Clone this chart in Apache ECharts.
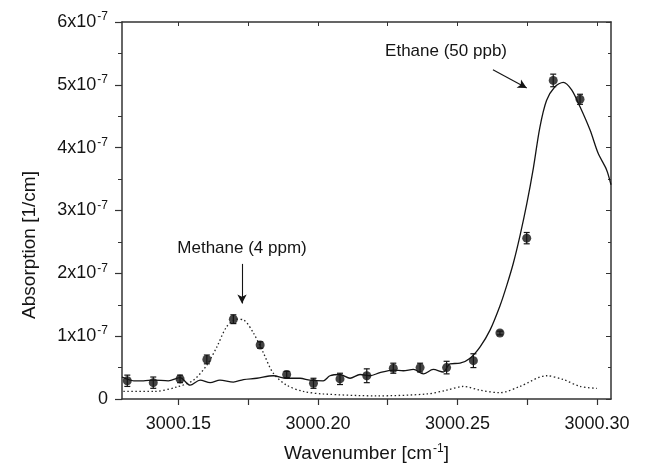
<!DOCTYPE html>
<html lang="en">
<head>
<meta charset="UTF-8">
<title>Absorption spectrum</title>
<script src="https://cdn.jsdelivr.net/npm/echarts@6/dist/echarts.min.js"></script>
<style>
  html, body { margin: 0; padding: 0; background: #fff; }
  #main { width: 661px; height: 464px; }
</style>
</head>
<body>
<div id="main"></div>
<script>
// measured points (absorption in units of 1e-7 1/cm)
const pointX = [3000.1317, 3000.1410, 3000.1506, 3000.1602, 3000.1697, 3000.1793, 3000.1888, 3000.1984, 3000.2079,
                3000.2175, 3000.2270, 3000.2366, 3000.2461, 3000.2557, 3000.2652, 3000.2748, 3000.2843, 3000.2939];
const pointY = [0.29, 0.26, 0.32, 0.63, 1.27, 0.86, 0.39, 0.25, 0.32, 0.37, 0.49, 0.50, 0.50, 0.61, 1.05, 2.56, 5.07, 4.77];
const pointErr = [0.09, 0.09, 0.06, 0.07, 0.07, 0.05, 0.05, 0.08, 0.09, 0.11, 0.08, 0.07, 0.10, 0.11, 0.03, 0.09, 0.10, 0.08];

// ethane fit + baseline (solid)
const ethaneX = [3000.1298, 3000.1340, 3000.1375, 3000.1410, 3000.1464, 3000.1506, 3000.1542, 3000.1578, 3000.1614,
                 3000.1649, 3000.1697, 3000.1733, 3000.1781, 3000.1840, 3000.1888, 3000.1936, 3000.1971, 3000.2019,
                 3000.2043, 3000.2079, 3000.2115, 3000.2151, 3000.2187, 3000.2222, 3000.2270, 3000.2306, 3000.2342,
                 3000.2378, 3000.2413, 3000.2449, 3000.2473, 3000.2509, 3000.2545, 3000.2581, 3000.2617, 3000.2652,
                 3000.2676, 3000.2700, 3000.2724, 3000.2748, 3000.2772, 3000.2795, 3000.2819, 3000.2849, 3000.2879,
                 3000.2909, 3000.2939, 3000.2975, 3000.3004, 3000.3034, 3000.3050];
const ethaneY = [0.35, 0.29, 0.29, 0.30, 0.29, 0.34, 0.22, 0.30, 0.26,
                 0.30, 0.27, 0.31, 0.33, 0.37, 0.33, 0.33, 0.30, 0.29,
                 0.37, 0.39, 0.33, 0.39, 0.37, 0.42, 0.46, 0.45, 0.47,
                 0.40, 0.47, 0.43, 0.56, 0.57, 0.65, 0.83, 1.10, 1.48,
                 1.80, 2.16, 2.60, 3.10, 3.68, 4.32, 4.75, 4.97, 5.04,
                 4.92, 4.65, 4.28, 3.91, 3.65, 3.41];

// methane fit (dotted)
const methaneX = [3000.1303, 3000.1410, 3000.1494, 3000.1554, 3000.1602, 3000.1638, 3000.1673, 3000.1709, 3000.1733,
                  3000.1769, 3000.1805, 3000.1840, 3000.1888, 3000.1948, 3000.2019, 3000.2211, 3000.2390, 3000.2461,
                  3000.2521, 3000.2581, 3000.2652, 3000.2724, 3000.2819, 3000.2879, 3000.2939, 3000.2999];
const methaneY = [0.12, 0.12, 0.19, 0.30, 0.54, 0.83, 1.15, 1.27, 1.26,
                  1.05, 0.73, 0.41, 0.22, 0.12, 0.08, 0.05, 0.08, 0.14,
                  0.20, 0.14, 0.10, 0.20, 0.37, 0.31, 0.20, 0.17];

const xLabels = [3000.15, 3000.20, 3000.25, 3000.30];
const xTicks = [3000.15, 3000.175, 3000.20, 3000.225, 3000.25, 3000.275, 3000.30];

const ink = '#141414';
const font = '"Liberation Sans", Arial, sans-serif';

const chart = echarts.init(document.getElementById('main'), null, { renderer: 'canvas' });

const pts = pointX.map((x, i) => [x, pointY[i], pointErr[i]]);

const option = {
  animation: false,
  backgroundColor: '#fff',
  grid: { left: 122, right: 50, top: 22, bottom: 65, containLabel: false, outerBoundsMode: 'none' },
  xAxis: [
    {
      type: 'value', min: 3000.1298, max: 3000.3050,
      name: '{a|Wavenumber [cm}{s|-1}{a|]}',
      nameLocation: 'middle', nameGap: 44,
      nameTextStyle: {
        rich: {
          a: { fontSize: 19, fontFamily: font, color: ink, lineHeight: 22 },
          s: { fontSize: 12, fontFamily: font, color: ink, verticalAlign: 'top', lineHeight: 22, padding: [0, 0, 10, 1] }
        }
      },
      axisLine: { show: true, onZero: false, lineStyle: { color: '#333', width: 1.5 } },
      axisTick: { show: true, inside: false, length: 6, customValues: xTicks, lineStyle: { color: '#333', width: 1.2 } },
      axisLabel: {
        customValues: xLabels, margin: 16, color: ink, fontSize: 18, fontFamily: font,
        formatter: v => v.toFixed(2)
      },
      splitLine: { show: false }
    },
    {
      type: 'value', position: 'top', min: 3000.1298, max: 3000.3050,
      axisLine: { show: true, onZero: false, lineStyle: { color: '#333', width: 1.5 } },
      axisTick: { show: true, inside: true, length: 4, customValues: xTicks, lineStyle: { color: '#333', width: 1 } },
      axisLabel: { show: false },
      splitLine: { show: false }
    }
  ],
  yAxis: [
    {
      type: 'value', min: 0, max: 6, interval: 1,
      axisLine: { show: true, onZero: false, lineStyle: { color: '#333', width: 1.5 } },
      axisTick: { show: true, inside: false, length: 7, lineStyle: { color: '#333', width: 1.2 } },
      minorTick: { show: true, splitNumber: 2, length: 4, lineStyle: { color: '#333', width: 1 } },
      axisLabel: {
        margin: 14, color: ink,
        formatter: v => v === 0 ? '{b|0}' : '{b|' + v + 'x10}{s|-7}',
        rich: {
          b: { fontSize: 18, fontFamily: font, color: ink, lineHeight: 22 },
          s: { fontSize: 12, fontFamily: font, color: ink, verticalAlign: 'top', lineHeight: 22, padding: [0, 0, 10, 1] }
        }
      },
      splitLine: { show: false }
    },
    {
      type: 'value', position: 'right', min: 0, max: 6, interval: 1,
      axisLine: { show: true, onZero: false, lineStyle: { color: '#333', width: 1.5 } },
      axisTick: { show: true, inside: true, length: 5, lineStyle: { color: '#333', width: 1 } },
      minorTick: { show: true, splitNumber: 2, length: 3, lineStyle: { color: '#333', width: 1 } },
      axisLabel: { show: false },
      splitLine: { show: false }
    }
  ],
  graphic: [
    {
      type: 'text', x: 30, y: 245, rotation: Math.PI / 2,
      style: { text: 'Absorption [1/cm]', fontSize: 19, fontFamily: font, fill: ink, align: 'center', verticalAlign: 'middle' }
    }
  ],
  series: [
    {
      name: 'Ethane fit', type: 'line', showSymbol: false, symbol: 'none',
      data: ethaneX.map((x, i) => [x, ethaneY[i]]),
      smooth: 0.3,
      lineStyle: { color: ink, width: 1.3 },
      z: 3,
      markLine: {
        silent: true, symbol: ['none', 'arrow'], symbolSize: [7, 9],
        lineStyle: { color: ink, width: 1.1, type: 'solid' },
        label: { show: false },
        data: [
          [{ coord: [3000.2627, 5.24] }, { coord: [3000.2748, 4.95] }],
          [{ coord: [3000.1728, 2.15] }, { coord: [3000.1728, 1.52] }]
        ]
      },
      markPoint: {
        silent: true, symbol: 'circle', symbolSize: 1,
        itemStyle: { color: 'rgba(0,0,0,0)' },
        label: { show: true, position: 'inside', color: ink, fontSize: 17, fontFamily: font, formatter: p => p.name },
        data: [
          { name: 'Ethane (50 ppb)', coord: [3000.2459, 5.53] },
          { name: 'Methane (4 ppm)', coord: [3000.1728, 2.40] }
        ]
      }
    },
    {
      name: 'Methane fit', type: 'line', showSymbol: false, symbol: 'none',
      data: methaneX.map((x, i) => [x, methaneY[i]]),
      smooth: 0.3,
      lineStyle: { color: '#222', width: 1.3, type: [1.5, 2.5] },
      z: 2
    },
    {
      name: 'Error', type: 'custom',
      data: pts,
      renderItem: (params, api) => {
        const x = api.value(0), y = api.value(1), e = api.value(2);
        const top = api.coord([x, y + e]);
        const bot = api.coord([x, y - e]);
        const w = 3;
        const st = { stroke: ink, lineWidth: 1.2 };
        return {
          type: 'group',
          children: [
            { type: 'line', shape: { x1: top[0], y1: top[1], x2: bot[0], y2: bot[1] }, style: st },
            { type: 'line', shape: { x1: top[0] - w, y1: top[1], x2: top[0] + w, y2: top[1] }, style: st },
            { type: 'line', shape: { x1: bot[0] - w, y1: bot[1], x2: bot[0] + w, y2: bot[1] }, style: st }
          ]
        };
      },
      z: 4
    },
    {
      name: 'Measured', type: 'scatter',
      data: pts.map(p => [p[0], p[1]]),
      symbol: 'circle', symbolSize: 9,
      itemStyle: { color: ink },
      z: 5
    }
  ]
};

chart.setOption(option);
</script>
</body>
</html>
